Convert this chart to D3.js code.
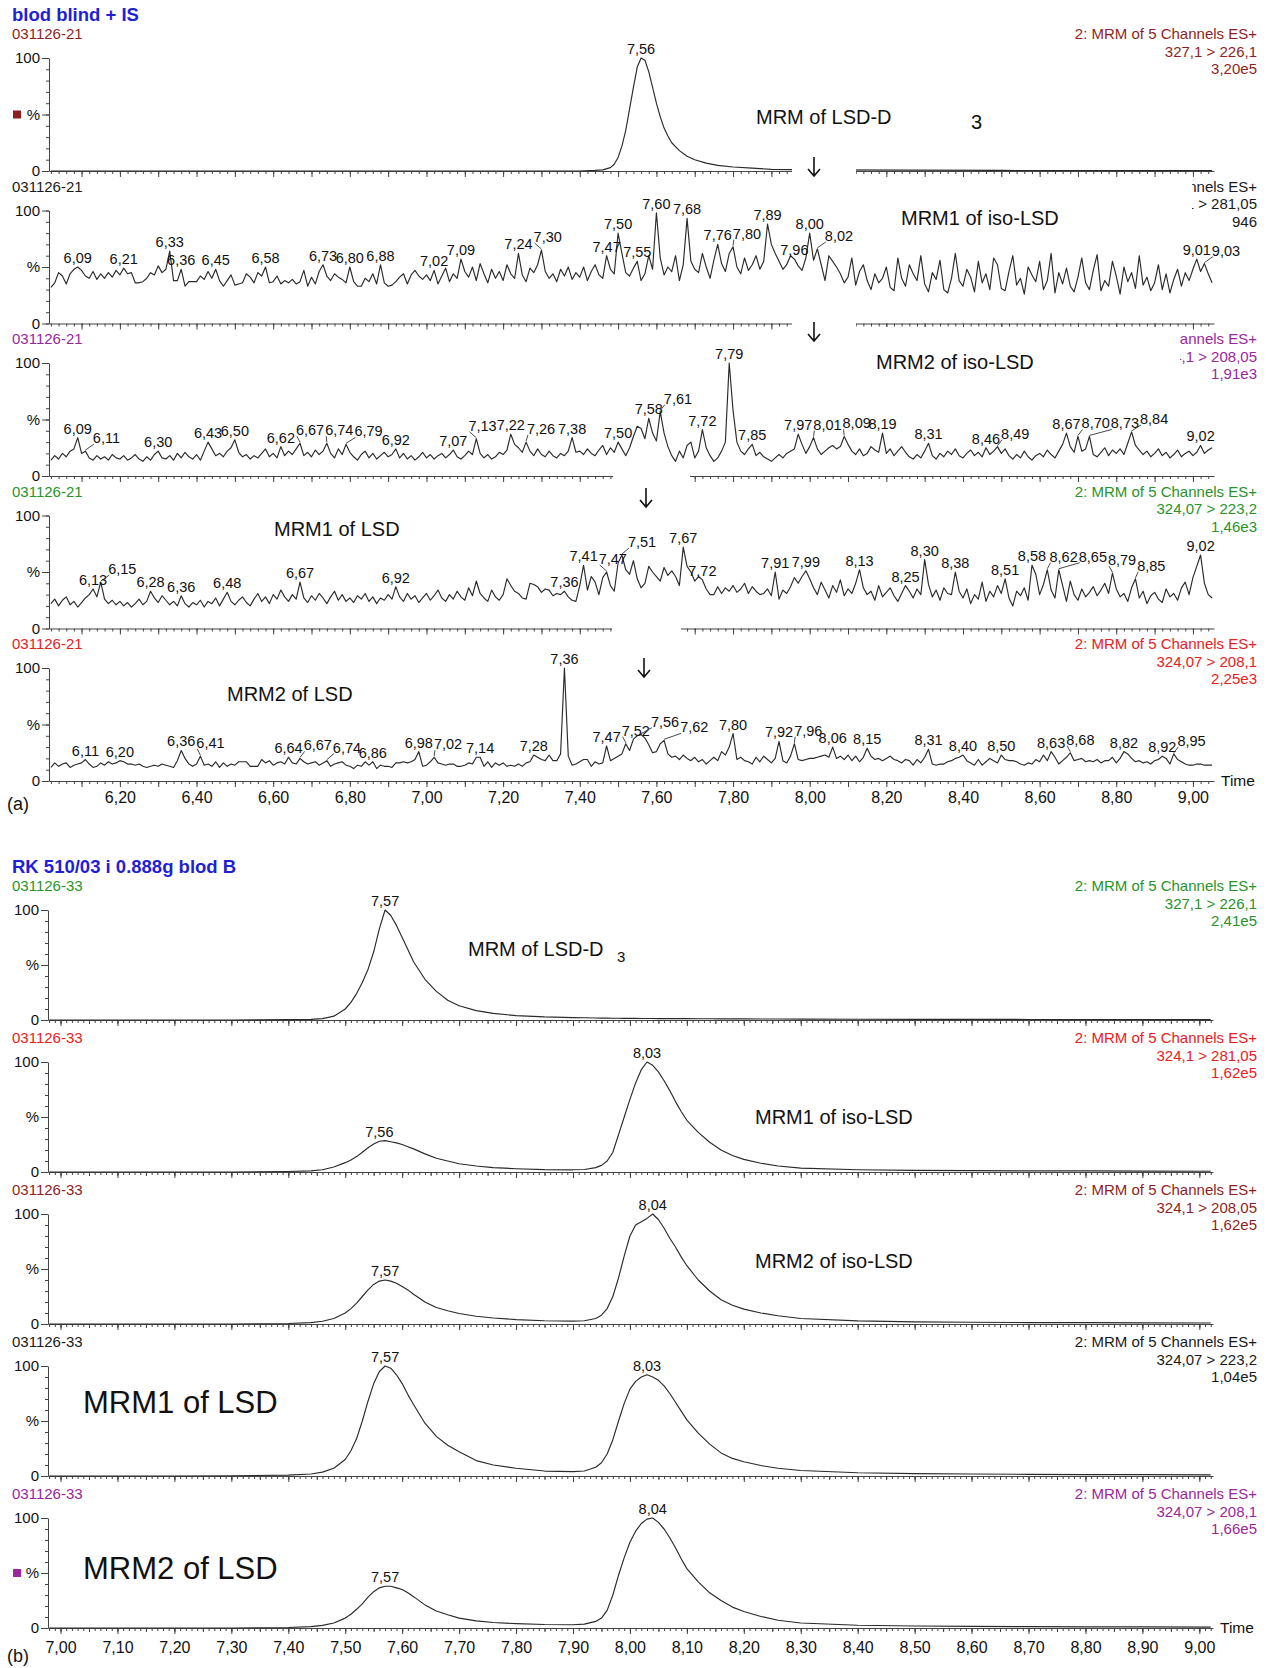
<!DOCTYPE html>
<html>
<head>
<meta charset="utf-8">
<title>MRM chromatograms LSD / iso-LSD</title>
<script src="https://d3js.org/d3.v7.min.js"></script>
<style>
  body { margin: 0; background: #fff; }
  svg { font-family: "Liberation Sans", Arial, Helvetica, sans-serif; }
  .trace { fill: none; stroke: #2a2a2a; stroke-width: 1.15; stroke-linejoin: round; }
  .lead { stroke: #333; stroke-width: 0.9; }
  .axis path, .axis line { stroke: #444; stroke-width: 1; }
  .axis text { font-family: "Liberation Sans", Arial, sans-serif; fill: #111; }
  .ylab text { font-size: 15px; }
  .xlab text { font-size: 16px; }
  .hdr { font-size: 15px; }
  .peak { font-size: 14.5px; fill: #111; text-anchor: middle; }
  .title { font-size: 18.5px; font-weight: bold; fill: #1f1fd6; }
  .note { font-size: 20px; fill: #111; }
  .big { font-size: 31px; fill: #111; }
</style>
</head>
<body>
<svg width="1270" height="1668"></svg>
<script>
// ---------------- data: part (a), blank blood + IS ----------------
// noisy traces sampled every 0.01 min starting at 6.02
const aStart = 6.02, aStep = 0.01;

// MRM of LSD-D3 (smooth peak)
const aLsdD3Time = [6.02, 6.50, 7.00, 7.40, 7.44, 7.46, 7.48, 7.49, 7.50, 7.51, 7.52, 7.53, 7.54, 7.55, 7.56, 7.57, 7.58,
  7.59, 7.60, 7.61, 7.62, 7.63, 7.64, 7.66, 7.68, 7.70, 7.73, 7.76, 7.80, 7.85, 7.90, 8.00, 8.50, 9.05];
const aLsdD3 = [0, 0, 0, 0, 0.5, 1, 3, 6, 12, 22, 36, 55, 74, 92, 100, 98, 88,
  74, 60, 48, 38, 31, 25, 18, 13, 10, 7, 5, 3.5, 2.5, 1.5, 1, 0.5, 0.3];

// MRM1 of iso-LSD
const aIsoLsd1 = [
  32, 36, 45, 42, 35, 44, 48, 50,
  47, 42, 40, 46, 39, 44, 40, 45, 41, 47,
  43, 49, 44, 45, 36, 36, 37, 40, 45, 43,
  51, 45, 48, 64, 38, 38, 48, 33, 37, 37,
  37, 42, 39, 46, 40, 48, 38, 33, 38, 43,
  34, 35, 36, 44, 41, 36, 45, 42, 50, 36,
  37, 42, 35, 38, 36, 39, 35, 37, 47, 33,
  41, 35, 46, 52, 42, 38, 44, 41, 39, 36,
  50, 37, 33, 33, 40, 37, 44, 35, 52, 36,
  33, 34, 37, 41, 44, 35, 43, 47, 42, 39,
  43, 38, 47, 35, 42, 49, 37, 44, 40, 57,
  46, 41, 50, 38, 53, 44, 36, 48, 40, 46,
  38, 52, 44, 40, 62, 43, 37, 49, 45, 52,
  65, 46, 40, 44, 37, 48, 42, 50, 39, 45,
  41, 50, 38, 46, 52, 43, 40, 60, 48, 44,
  80, 62, 45, 42, 49, 55, 38, 44, 60, 48,
  98, 58, 43, 50, 46, 60, 38, 52, 93, 55,
  48, 45, 62, 50, 40, 56, 70, 53, 46, 62,
  68, 50, 44, 58, 47, 52, 60, 48, 55, 88,
  70, 62, 55, 48, 52, 60, 57, 51, 47, 58,
  80, 56, 66, 52, 38, 60, 55, 50, 44, 36,
  41, 58, 34, 46, 52, 38, 30, 44, 36, 40,
  50, 32, 29, 58, 40, 33, 52, 44, 38, 60,
  35, 28, 45, 39, 56, 30, 27, 40, 62, 38,
  33, 48, 41, 28, 55, 36, 44, 30, 58, 52,
  31, 29, 46, 60, 34, 40, 26, 50, 43, 37,
  55, 30, 38, 62, 27, 45, 35, 49, 33, 28,
  41, 58, 36, 30, 47, 61, 29, 38, 33, 55,
  42, 26, 50, 37, 45, 31, 60, 34, 41, 29,
  36, 52, 30, 44, 27, 39, 48, 33, 45, 38,
  48, 57, 46, 53, 44, 36];

// MRM2 of iso-LSD
const aIsoLsd2 = [
  14, 18, 15, 20, 17, 22, 24, 34,
  20, 22, 16, 14, 18, 15, 17, 14, 19, 16,
  15, 18, 14, 16, 19, 15, 13, 17, 14, 19,
  22, 16, 15, 18, 14, 20, 16, 21, 17, 15,
  19, 14, 22, 30, 24, 18, 20, 17, 22, 25,
  32, 21, 17, 19, 15, 18, 16, 20, 24, 17,
  20, 16, 26, 18, 22, 19, 24, 29, 18, 21,
  17, 23, 19, 22, 29, 20, 16, 24, 19, 28,
  21, 17, 14, 19, 22, 16, 20, 15, 18, 21,
  17, 19, 24, 16, 20, 15, 18, 14, 17, 21,
  16, 19, 15, 18, 20, 16, 19, 23, 17, 15,
  18, 22, 19, 33, 20, 16, 19, 15, 17, 21,
  19, 23, 37, 28, 25, 21, 30, 22, 18, 24,
  19, 17, 22, 18, 16, 20, 18, 22, 34, 21,
  22, 19, 24, 20, 18, 23, 27, 19, 25, 21,
  30, 24, 18, 25, 35, 44, 42, 33, 51, 38,
  31, 57, 38, 26, 18, 13, 22, 16, 27, 30,
  16, 22, 41, 25, 18, 13, 16, 22, 30, 100,
  58, 30, 22, 19, 24, 28, 18, 21, 17, 15,
  13, 16, 19, 16, 20, 22, 24, 37, 28, 20,
  26, 34, 24, 19, 22, 25, 27, 24, 26, 35,
  28, 22, 19, 24, 18, 20, 26, 23, 21, 38,
  20, 24, 18, 22, 26, 21, 17, 15, 19, 16,
  22, 29, 18, 15, 20, 17, 22, 19, 24, 18,
  16, 20, 23, 18, 21, 17, 25, 19, 22, 26,
  20, 24, 18, 15, 19, 16, 22, 17, 14, 18,
  20, 17, 23, 19, 16, 22, 28, 38, 26, 21,
  35, 22, 24, 35, 19, 17, 21, 25, 18, 23,
  20, 24, 19, 29, 39, 27, 23, 19, 22, 17,
  20, 24, 18, 21, 16, 19, 23, 17, 20, 22,
  18, 21, 27, 20, 23, 25];

// MRM1 of LSD
const aLsd1 = [
  22, 26, 20, 25, 28, 21, 24, 19,
  23, 27, 30, 35, 28, 41, 26, 22, 25, 21,
  24, 20, 23, 19, 22, 26, 21, 24, 33, 27,
  23, 29, 25, 21, 24, 20, 29, 22, 19, 23,
  21, 25, 19, 24, 22, 27, 20, 26, 32, 24,
  21, 25, 28, 23, 20, 26, 31, 24, 28, 22,
  30, 26, 34, 28, 24, 30, 26, 41, 27, 23,
  29, 25, 31, 27, 22, 28, 33, 25, 30, 24,
  27, 23, 29, 26, 31, 24, 28, 22, 27, 25,
  30, 26, 37, 28, 24, 31, 26, 29, 23, 27,
  31, 25, 29, 34, 27, 24, 30, 26, 33, 28,
  25, 36, 29, 42, 31, 27, 24, 34, 28, 25,
  30, 44, 38, 33, 31, 27, 26, 40, 39, 37,
  32, 35, 34, 29, 31, 30, 33, 28, 25, 24,
  38, 56, 34, 46, 41, 30, 45, 50, 38, 33,
  58, 65, 52, 48, 60, 44, 36, 40, 55, 50,
  46, 42, 54, 47, 51, 46, 38, 72, 55, 50,
  42, 46, 43, 35, 30, 30, 37, 31, 36, 33,
  38, 32, 35, 40, 31, 37, 33, 30, 31, 35,
  29, 50, 26, 34, 31, 37, 45, 40, 46, 51,
  44, 36, 30, 41, 34, 27, 38, 32, 43, 29,
  35, 31, 40, 52, 36, 30, 33, 25, 38, 28,
  32, 36, 29, 24, 31, 38, 33, 27, 35, 30,
  61, 39, 28, 34, 25, 36, 31, 30, 50, 33,
  27, 35, 22, 30, 26, 41, 24, 33, 28, 38,
  31, 44, 27, 20, 33, 29, 36, 25, 56, 48,
  30, 39, 52, 34, 27, 52, 38, 24, 42, 30,
  25, 35, 28, 32, 37, 29, 34, 40, 31, 49,
  35, 28, 31, 24, 36, 44, 27, 33, 22, 29,
  32, 26, 23, 35, 28, 31, 25, 36, 41, 30,
  45, 55, 65, 40, 30, 27];

// MRM2 of LSD
const aLsd2 = [
  12, 16, 13, 15, 16, 12, 14, 15,
  16, 19, 15, 12, 13, 16, 14, 17, 15, 16,
  18, 17, 15, 15, 14, 15, 13, 12, 13, 14,
  13, 15, 14, 13, 12, 18, 27, 20, 15, 13,
  15, 22, 14, 15, 13, 17, 12, 16, 13, 15,
  14, 17, 17, 17, 13, 13, 13, 19, 16, 18,
  14, 16, 17, 15, 21, 16, 15, 20, 17, 15,
  16, 17, 14, 16, 18, 13, 15, 16, 17, 14,
  13, 11, 14, 13, 17, 14, 17, 11, 14, 13,
  13, 12, 16, 16, 17, 16, 17, 19, 26, 13,
  14, 17, 21, 16, 15, 14, 15, 15, 13, 13,
  14, 16, 15, 21, 21, 13, 17, 12, 16, 14,
  16, 13, 14, 13, 15, 13, 16, 17, 23, 21,
  19, 18, 23, 18, 18, 24, 100, 22, 14, 15,
  17, 19, 19, 13, 17, 15, 16, 31, 18, 20,
  22, 24, 33, 27, 37, 40, 41, 38, 32, 25,
  26, 33, 36, 24, 21, 22, 19, 23, 20, 18,
  21, 17, 19, 15, 18, 21, 18, 26, 23, 30,
  42, 19, 21, 18, 17, 15, 21, 17, 22, 19,
  16, 20, 35, 18, 16, 22, 33, 19, 18, 19,
  20, 20, 21, 22, 23, 21, 30, 20, 22, 19,
  23, 18, 22, 17, 21, 29, 22, 19, 20, 18,
  20, 22, 19, 18, 16, 19, 18, 14, 19, 16,
  21, 28, 15, 14, 15, 15, 17, 18, 20, 21,
  23, 18, 16, 14, 19, 14, 17, 20, 18, 16,
  23, 19, 18, 18, 17, 15, 14, 16, 15, 19,
  17, 23, 18, 26, 21, 15, 18, 21, 25, 18,
  19, 20, 17, 18, 17, 19, 16, 18, 18, 21,
  16, 20, 26, 24, 20, 17, 18, 16, 17, 15,
  18, 19, 22, 20, 15, 24, 19, 17, 15, 14,
  14, 15, 15, 14, 14, 14];

// labelled retention times
const aPeaksD3 = [7.56];
const aPeaksIso1 = [6.09, 6.21, 6.33, 6.36, 6.45, 6.58, 6.73, 6.80, 6.88, 7.02, 7.09, 7.24, 7.30, 7.47, 7.50,
  7.55, 7.60, 7.68, 7.76, 7.80, 7.89, 7.96, 8.00, 8.02, 9.01, 9.03];
const aPeaksIso2 = [6.09, 6.11, 6.30, 6.43, 6.50, 6.62, 6.67, 6.74, 6.79, 6.92, 7.07, 7.13, 7.22, 7.26, 7.38,
  7.50, 7.58, 7.61, 7.72, 7.79, 7.85, 7.97, 8.01, 8.09, 8.19, 8.31, 8.46, 8.49, 8.67, 8.70, 8.73, 8.84, 9.02];
const aPeaksLsd1 = [6.13, 6.15, 6.28, 6.36, 6.48, 6.67, 6.92, 7.36, 7.41, 7.47, 7.51, 7.67, 7.72, 7.91, 7.99,
  8.13, 8.25, 8.30, 8.38, 8.51, 8.58, 8.62, 8.65, 8.79, 8.85, 9.02];
const aPeaksLsd2 = [6.11, 6.20, 6.36, 6.41, 6.64, 6.67, 6.74, 6.86, 6.98, 7.02, 7.14, 7.28, 7.36, 7.47, 7.52,
  7.56, 7.62, 7.80, 7.92, 7.96, 8.06, 8.15, 8.31, 8.40, 8.50, 8.63, 8.68, 8.82, 8.92, 8.95];

const aChannels = ["327,1 > 226,1", "324,1 > 281,05", "324,1 > 208,05", "324,07 > 223,2", "324,07 > 208,1"];
const aIntensity = ["3,20e5", "946", "1,91e3", "1,46e3", "2,25e3"];

// ---------------- data: part (b), RK 510/03 ----------------
const bTime = [6.98, 7.10, 7.20, 7.30, 7.40, 7.44, 7.46, 7.48, 7.50, 7.51, 7.52, 7.53, 7.54, 7.55, 7.56, 7.57,
  7.58, 7.59, 7.60, 7.61, 7.62, 7.64, 7.66, 7.68, 7.70, 7.73, 7.76, 7.80, 7.85, 7.90, 7.92, 7.94,
  7.95, 7.96, 7.97, 7.98, 7.99, 8.00, 8.01, 8.02, 8.03, 8.04, 8.05, 8.06, 8.07, 8.08, 8.09, 8.10,
  8.12, 8.14, 8.16, 8.18, 8.20, 8.23, 8.26, 8.30, 8.40, 8.50, 8.60, 8.70, 8.80, 8.90, 9.02];
const bLsdD3 = [0, 0, 0, 0, 0.3, 0.6, 1.2, 3.5, 10, 16, 24, 34, 46, 62, 83, 100,
  95, 86, 75, 64, 53, 37, 26, 18, 13, 8.5, 6, 4, 2.8, 2.2, 2, 1.8,
  1.7, 1.7, 1.6, 1.6, 1.5, 1.5, 1.5, 1.4, 1.4, 1.4, 1.3, 1.3, 1.3, 1.2, 1.2, 1.2,
  1.1, 1.1, 1, 1, 1, 0.9, 0.9, 0.8, 0.7, 0.6, 0.6, 0.5, 0.5, 0.5, 0.4];
const bIsoLsd1 = [0, 0, 0, 0, 0.5, 1, 2, 4.5, 8.5, 11, 14, 18, 22, 25.5, 28, 28.5,
  27.5, 26.5, 25, 23, 21, 16.5, 12.5, 10, 7.5, 5.5, 4, 3, 2.2, 2, 2.3, 4,
  6, 10, 18, 34, 50, 66, 81, 93, 100, 97, 91, 83, 74, 64, 55, 47,
  36, 27, 20, 15, 11.5, 8, 5.5, 3.5, 2, 1.5, 1.2, 1, 1, 0.8, 0.7];
const bIsoLsd2 = [0, 0, 0, 0, 0.5, 1.2, 2.5, 5, 10, 14, 19, 25, 31, 36, 39, 40,
  39, 37, 34, 31, 27, 20, 15, 12, 9.5, 7, 5.5, 4, 3, 2.6, 3, 5,
  8, 14, 25, 42, 62, 80, 90, 93, 96, 100, 95, 87, 78, 70, 61, 53,
  40, 30, 22, 17, 13.5, 10, 7.5, 5, 2.8, 2, 1.6, 1.3, 1.2, 1, 0.9];
const bLsd1 = [0, 0, 0, 0.2, 0.8, 1.8, 3.5, 7, 15, 23, 34, 50, 68, 84, 95, 100,
  98, 92, 84, 74, 65, 48, 36, 28, 22, 14, 10, 7, 4.5, 4, 4.5, 8,
  12, 20, 33, 50, 66, 79, 86, 90, 92, 90, 87, 82, 75, 67, 59, 51,
  39, 29, 21, 16, 13, 9.5, 7, 5, 3, 2.2, 1.8, 1.5, 1.3, 1.2, 1];
const bLsd2 = [0, 0, 0, 0, 0.5, 1.2, 2.4, 4.5, 9, 12.5, 17, 22, 28, 33, 36.5, 38,
  38, 36.5, 35, 32, 28.5, 21, 15.5, 12, 9, 6.5, 5, 4, 3.2, 3, 3.5, 6,
  9, 16, 30, 48, 64, 78, 88, 95, 99, 100, 96, 90, 82, 73, 63, 54,
  42, 32, 25, 19, 15, 10.5, 7, 4.5, 2.5, 1.8, 1.5, 1.2, 1, 1, 0.8];

const bPeaksD3 = [7.57];
const bPeaksIso1 = [7.56, 8.03];
const bPeaksIso2 = [7.57, 8.04];
const bPeaksLsd1 = [7.57, 8.03];
const bPeaksLsd2 = [7.57, 8.04];

const bChannels = ["327,1 > 226,1", "324,1 > 281,05", "324,1 > 208,05", "324,07 > 223,2", "324,07 > 208,1"];
const bIntensity = ["2,41e5", "1,62e5", "1,62e5", "1,04e5", "1,66e5"];

// ---------------- drawing ----------------
const DARKRED = "#8e1f22", PURPLE = "#99279b", GREEN = "#2a922a", RED = "#e5221e", BLACK = "#1a1a1a";
const aColors = [DARKRED, BLACK, PURPLE, GREEN, RED];
const bColors = [GREEN, RED, DARKRED, BLACK, PURPLE];

const svg = d3.select("svg");
const fmt = d => d3.format(".2f")(d).replace(".", ",");

const xA = d3.scaleLinear().domain([6.015, 9.055]).range([49, 1214]);
const xB = d3.scaleLinear().domain([6.978, 9.024]).range([48, 1213]);

const stepSeries = vals => vals.map((v, i) => ({ t: +(aStart + i * aStep).toFixed(2), v }));
const pairSeries = (times, vals) => times.map((t, i) => ({ t, v: vals[i] }));

function drawPanel(o) {
  const y = d3.scaleLinear().domain([0, 100]).range([o.bottom, o.top]);
  const g = svg.append("g");
  const x = o.x;

  // sample id and channel header
  g.append("text").attr("class", "hdr").attr("x", 12).attr("y", o.top - 19)
    .attr("fill", o.color).text(o.sample);
  const hdr = g.append("text").attr("class", "hdr").attr("text-anchor", "end").attr("fill", o.color);
  ["2: MRM of 5 Channels ES+", o.channel, o.intensity].forEach((s, i) =>
    hdr.append("tspan").attr("x", 1257).attr("y", o.top - 19 + i * 17.5).text(s));

  // y axis: minor ticks each 10 %, labelled 0 / % / 100
  g.append("g").attr("class", "axis").attr("transform", `translate(${x.range()[0]},0)`)
    .call(d3.axisLeft(y).tickValues(d3.range(0, 101, 10)).tickSize(3).tickSizeOuter(0).tickFormat(""));
  g.append("g").attr("class", "axis ylab").attr("transform", `translate(${x.range()[0]},0)`)
    .call(d3.axisLeft(y).tickValues([0, 50, 100]).tickSize(7).tickPadding(2).tickSizeOuter(0)
      .tickFormat(d => d === 50 ? "%" : d))
    .select(".domain").remove();

  if (o.marker) {
    g.append("rect").attr("x", 13).attr("y", y(50) - 4).attr("width", 8).attr("height", 8).attr("fill", o.marker);
  }

  // x axis ticks
  const ax = g.append("g").attr("class", "axis").attr("transform", `translate(0,${o.bottom})`);
  ax.call(d3.axisBottom(x).tickValues(o.minor).tickSize(3).tickSizeOuter(0).tickFormat(""));
  if (o.mid) {
    ax.append("g").call(d3.axisBottom(x).tickValues(o.mid).tickSize(4).tickFormat(""))
      .select(".domain").remove();
  }
  const major = ax.append("g").attr("class", "xlab")
    .call(d3.axisBottom(x).tickValues(o.major).tickSize(6).tickPadding(o.labelPad)
      .tickFormat(d => (o.showLabels && o.labelled.some(l => Math.abs(l - d) < 1e-6)) ? fmt(d) : ""));
  major.select(".domain").remove();

  // trace
  const line = d3.line().x(d => x(d.t)).y(d => y(d.v));
  g.append("path").datum(o.data).attr("class", "trace").attr("d", line);

  // peak labels, pushed right (with a leader line) when they would collide
  const placed = [];
  o.peaks.forEach(t => {
    const p = o.data.reduce((a, b) => Math.abs(b.t - t) < Math.abs(a.t - t) ? b : a);
    const px = x(t), py = y(p.v);
    const txt = g.append("text").attr("class", "peak").attr("x", px).attr("y", py - 4).text(fmt(t));
    const w = txt.node().getComputedTextLength();
    let cx = px, cy = py - 4;
    placed.forEach(q => {
      if (Math.abs(q.y - cy) < 17 && cx - w / 2 < q.r + 1 && cx + w / 2 > q.l - 1) {
        cx = q.r + 1 + w / 2;
      }
    });
    if (cx - px > 5) {
      cy -= 4;
      txt.attr("x", cx).attr("y", cy);
      g.append("line").attr("class", "lead")
        .attr("x1", px).attr("y1", py - 1).attr("x2", cx - w / 2 + 1).attr("y2", cy + 1);
    }
    placed.push({ l: cx - w / 2, r: cx + w / 2, y: cy });
  });
}

// ----- part (a) -----
svg.append("text").attr("class", "title").attr("x", 12).attr("y", 21).text("blod blind + IS");
const aData = [pairSeries(aLsdD3Time, aLsdD3), stepSeries(aIsoLsd1), stepSeries(aIsoLsd2), stepSeries(aLsd1), stepSeries(aLsd2)];
const aPeaks = [aPeaksD3, aPeaksIso1, aPeaksIso2, aPeaksLsd1, aPeaksLsd2];
aData.forEach((data, k) => {
  drawPanel({
    x: xA, top: 58 + 152.5 * k, bottom: 171 + 152.5 * k, data, peaks: aPeaks[k],
    sample: "031126-21", channel: aChannels[k], intensity: aIntensity[k], color: aColors[k],
    marker: k === 0 ? DARKRED : null,
    minor: d3.range(301, 453).map(i => i / 50),
    mid: null,
    major: d3.range(61, 91).map(i => i / 10),
    labelled: d3.range(31, 46).map(i => i / 5),
    showLabels: k === 4, labelPad: 5
  });
});

// ----- part (b) -----
svg.append("text").attr("class", "title").attr("x", 12).attr("y", 873).text("RK 510/03 i 0.888g blod B");
const bData = [bLsdD3, bIsoLsd1, bIsoLsd2, bLsd1, bLsd2].map(v => pairSeries(bTime, v));
const bPeaks = [bPeaksD3, bPeaksIso1, bPeaksIso2, bPeaksLsd1, bPeaksLsd2];
bData.forEach((data, k) => {
  drawPanel({
    x: xB, top: 910 + 152 * k, bottom: 1020 + 152 * k, data, peaks: bPeaks[k],
    sample: "031126-33", channel: bChannels[k], intensity: bIntensity[k], color: bColors[k],
    marker: k === 4 ? PURPLE : null,
    minor: d3.range(698, 903).map(i => i / 100),
    mid: d3.range(140, 181).map(i => i / 20),
    major: d3.range(70, 91).map(i => i / 10),
    labelled: d3.range(70, 91).map(i => i / 10),
    showLabels: k === 4, labelPad: 8
  });
});

// axis captions
svg.append("text").attr("x", 1221).attr("y", 786).attr("font-size", 15.5).attr("fill", "#111").text("Time");
svg.append("text").attr("x", 1220).attr("y", 1633).attr("font-size", 15.5).attr("fill", "#111").text("Time");
svg.append("text").attr("x", 7).attr("y", 810).attr("font-size", 18).attr("fill", "#111").text("(a)");
svg.append("text").attr("x", 7).attr("y", 1662).attr("font-size", 18).attr("fill", "#111").text("(b)");

// pasted-over areas of the original figure (white patches with arrows)
const patches = [[792, 150, 64, 35], [856, 177, 336, 34], [792, 312, 64, 30], [856, 327, 324, 40],
  [613, 466, 77, 46], [612, 620, 69, 58]];
svg.selectAll(".patch").data(patches).join("rect")
  .attr("x", d => d[0]).attr("y", d => d[1]).attr("width", d => d[2]).attr("height", d => d[3])
  .attr("fill", "#fff");

const arrows = [[814, 167], [814, 332], [646, 498], [644, 668]];
svg.selectAll(".arrow").data(arrows).join("path")
  .attr("d", d => `M${d[0]},${d[1] - 10}V${d[1] + 9}M${d[0] - 6},${d[1] + 2}L${d[0]},${d[1] + 9}L${d[0] + 6},${d[1] + 2}`)
  .attr("fill", "none").attr("stroke", "#111").attr("stroke-width", 1.6);

// trace annotations
const note = (x, y, s, cls) => svg.append("text").attr("class", cls || "note").attr("x", x).attr("y", y).text(s);
note(756, 124, "MRM of LSD-D");
note(971, 129, "3");
note(901, 225, "MRM1 of iso-LSD");
note(876, 369, "MRM2 of iso-LSD");
note(274, 536, "MRM1 of LSD");
note(227, 701, "MRM2 of LSD");

note(468, 956, "MRM of LSD-D");
svg.append("text").attr("x", 617).attr("y", 962).attr("font-size", 15).attr("fill", "#111").text("3");
note(755, 1124, "MRM1 of iso-LSD");
note(755, 1268, "MRM2 of iso-LSD");
note(83, 1413, "MRM1 of LSD", "big");
note(83, 1579, "MRM2 of LSD", "big");
</script>
</body>
</html>
